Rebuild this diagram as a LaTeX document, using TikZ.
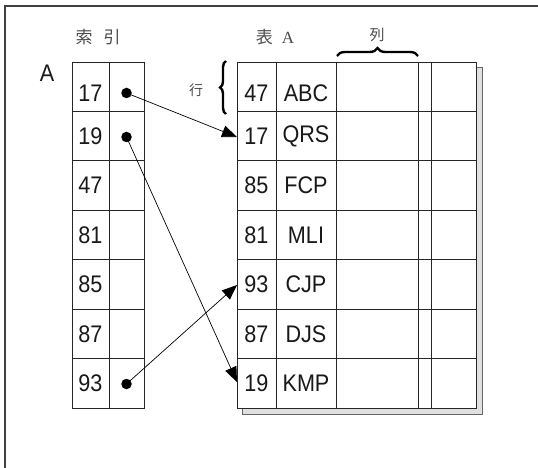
\documentclass[tikz,border=0pt]{standalone}
\usepackage{fontspec}
\setmainfont{Liberation Sans}[FakeStretch=0.9]
\newfontfamily\cjk{Noto Sans CJK JP}
\newfontfamily\serifA{Liberation Serif}
\usetikzlibrary{arrows.meta,decorations.pathreplacing}
\begin{document}
\begin{tikzpicture}[x=1pt,y=-1pt,
  cell/.style={draw=black!85,line width=0.9pt,minimum width=#1,minimum height=49.43pt,
    inner sep=0pt,outer sep=0pt,anchor=north west},
  txt/.style={font=\fontsize{24}{25}\selectfont,text=black!90,inner sep=0pt},
  cjktxt/.style={font=\cjk\fontsize{#1}{#1}\selectfont,text=black!70,inner sep=0pt},
  dot/.style={circle,fill=black,inner sep=0pt,minimum size=10.5pt},
  link/.style={line width=0.7pt,-{Triangle[length=15pt,width=12pt]}},
  bracepath/.style={decorate,line width=2.4pt,decoration={brace,amplitude=#1}}]
\useasboundingbox (0,0) rectangle (538,468);
% frame
\draw[line width=1.4pt,black!75] (5,468) -- (5,6) -- (538,6);
% titles
\node[cjktxt=17] (tidx) at (98,37) {索\hspace{11pt}引};
\node[cjktxt=17] (ttab) at (275,37) {表\hspace{9pt}{\serifA\fontsize{17}{17}\selectfont A}};
\node[cjktxt=15] (tcol) at (377,35) {列};
\node[cjktxt=14] (trow) at (196,90) {行};
\node[txt] (tA) at (47,73) {A};
% shadow of table A
\draw[fill=black!12,draw=black!60,line width=1pt] (242,68) rectangle (482,414);
% index table
\foreach \v [count=\i] in {17,19,47,81,85,87,93}{
  \pgfmathsetmacro{\yy}{62+49.43*(\i-1)}
  \node[cell=37pt] (i\i a) at (72,\yy) {};
  \node[cell=35pt] (i\i b) at (109,\yy) {};
}
% table A
\foreach \k/\w [count=\i] in {47/ABC,17/QRS,85/FCP,81/MLI,93/CJP,87/DJS,19/KMP}{
  \pgfmathsetmacro{\yy}{62+49.43*(\i-1)}
  \node[cell=39pt,fill=white] (t\i a) at (237,\yy) {};
  \node[cell=60pt,fill=white] (t\i b) at (276,\yy) {};
  \node[cell=82pt,fill=white] (t\i c) at (336,\yy) {};
  \node[cell=13pt,fill=white] (t\i d) at (418,\yy) {};
  \node[cell=45pt,fill=white] (t\i e) at (431,\yy) {};
}
% texts
\foreach \v [count=\i] in {17,19,47,81,85,87,93}{
  \pgfmathsetmacro{\yy}{\i==1 ? 93 : 62+49.43*(\i-1)+24.7}
  \node[txt] (n\i) at (90.5,\yy) {\v};
}
\foreach \k/\w [count=\i] in {47/ABC,17/QRS,85/FCP,81/MLI,93/CJP,87/DJS,19/KMP}{
  \pgfmathsetmacro{\yy}{\i==1 ? 93 : 62+49.43*(\i-1)+24.7}
  \node[txt] (k\i) at (256.5,\yy) {\k};
  \node[txt] (w\i) at (306,\yy) {\w};
}
% braces
\draw[bracepath=8pt] (337,56) -- (418,56);
\draw[bracepath=6pt] (226,114) -- (226,61);
% dots and links
\node[dot] (d1) at (126.5,93) {};
\node[dot] (d2) at (126.5,137) {};
\node[dot] (d7) at (126.5,384) {};
\coordinate (e2) at (237,137);
\coordinate (e7) at (237,382);
\coordinate (e5) at (237,285);
\draw[link] (d1.center) -- (e2);
\draw[link] (d2.center) -- (e7);
\draw[link] (d7.center) -- (e5);
\end{tikzpicture}
\end{document}
